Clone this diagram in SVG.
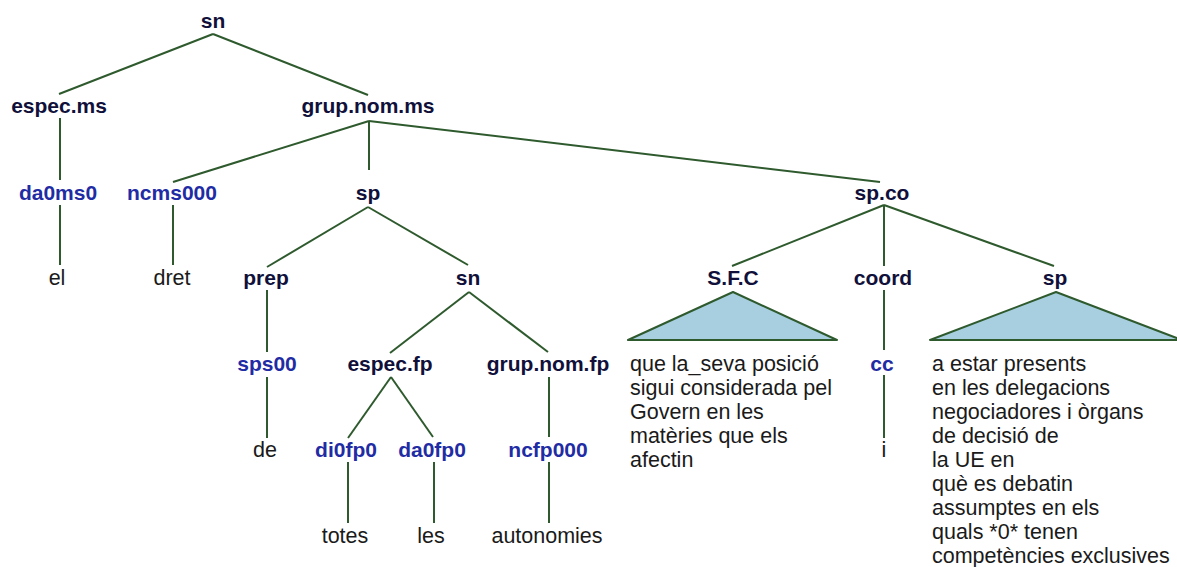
<svg xmlns="http://www.w3.org/2000/svg" width="1177" height="567" viewBox="0 0 1177 567">
<style>
.lbl{font-family:"Liberation Sans",Arial,sans-serif;font-weight:bold;font-size:21px;fill:#10103a;text-anchor:middle}
.tag{font-family:"Liberation Sans",Arial,sans-serif;font-weight:bold;font-size:21px;fill:#1f2ca4;text-anchor:middle}
.wrd{font-family:"Liberation Sans",Arial,sans-serif;font-size:21.5px;fill:#1a1a1a;text-anchor:middle}
.txt{font-family:"Liberation Sans",Arial,sans-serif;font-size:21.5px;fill:#1a1a1a}
.e{stroke:#2e5a2e;stroke-width:2;fill:none}
.tri{fill:#a8cfe0;stroke:#2e5a2e;stroke-width:2;stroke-linejoin:round}
</style>
<rect width="1177" height="567" fill="#ffffff"/>
<g id="connectors">
<line class="e" x1="213" y1="34" x2="59" y2="94"/>
<line class="e" x1="213" y1="34" x2="368" y2="95"/>
<line class="e" x1="60" y1="118" x2="60" y2="180"/>
<line class="e" x1="369" y1="121" x2="173" y2="182"/>
<line class="e" x1="369" y1="121" x2="369" y2="170"/>
<line class="e" x1="369" y1="121" x2="880" y2="182"/>
<line class="e" x1="60" y1="205" x2="60" y2="265"/>
<line class="e" x1="173" y1="205" x2="173" y2="265"/>
<line class="e" x1="368" y1="207" x2="267" y2="267"/>
<line class="e" x1="368" y1="207" x2="468" y2="265"/>
<line class="e" x1="884" y1="205" x2="732" y2="266"/>
<line class="e" x1="884" y1="205" x2="884" y2="266"/>
<line class="e" x1="884" y1="205" x2="1054" y2="266"/>
<line class="e" x1="267" y1="290" x2="267" y2="352"/>
<line class="e" x1="469" y1="292" x2="390" y2="353"/>
<line class="e" x1="469" y1="292" x2="548" y2="352"/>
<line class="e" x1="884" y1="290" x2="884" y2="350"/>
<line class="e" x1="267" y1="377" x2="267" y2="438"/>
<line class="e" x1="391" y1="377" x2="348" y2="438"/>
<line class="e" x1="391" y1="377" x2="433" y2="437"/>
<line class="e" x1="549" y1="377" x2="549" y2="437"/>
<line class="e" x1="884" y1="375" x2="884" y2="438"/>
<line class="e" x1="348" y1="462" x2="348" y2="523"/>
<line class="e" x1="434" y1="462" x2="434" y2="523"/>
<line class="e" x1="549" y1="462" x2="549" y2="523"/>
</g>
<g id="n-sn"><text class="lbl" x="213" y="28">sn</text></g>
<g id="n-espec-ms"><text class="lbl" x="59" y="113">espec.ms</text></g>
<g id="n-grup-nom-ms"><text class="lbl" x="368" y="113">grup.nom.ms</text></g>
<g id="n-da0ms0"><text class="tag" x="58" y="200">da0ms0</text></g>
<g id="n-ncms000"><text class="tag" x="172" y="200">ncms000</text></g>
<g id="n-sp"><text class="lbl" x="368" y="200">sp</text></g>
<g id="n-sp-co"><text class="lbl" x="882" y="200">sp.co</text></g>
<g id="n-el"><text class="wrd" x="57" y="285">el</text></g>
<g id="n-dret"><text class="wrd" x="172" y="285">dret</text></g>
<g id="n-prep"><text class="lbl" x="266" y="285">prep</text></g>
<g id="n-sn2"><text class="lbl" x="468" y="285">sn</text></g>
<g id="n-sfc"><text class="lbl" x="733" y="285">S.F.C</text>
<polygon class="tri" points="733,292 628,340 837,340"/>
<text class="txt" x="630" y="371">que la_seva posició</text>
<text class="txt" x="630" y="395">sigui considerada pel</text>
<text class="txt" x="630" y="419">Govern en les</text>
<text class="txt" x="630" y="443">matèries que els</text>
<text class="txt" x="630" y="467">afectin</text>
</g>
<g id="n-coord"><text class="lbl" x="883" y="285">coord</text></g>
<g id="n-sp2"><text class="lbl" x="1055" y="285">sp</text>
<polygon class="tri" points="1056,292 930,340 1182,340"/>
<text class="txt" x="932" y="371">a estar presents</text>
<text class="txt" x="932" y="395">en les delegacions</text>
<text class="txt" x="932" y="419">negociadores i òrgans</text>
<text class="txt" x="932" y="443">de decisió de</text>
<text class="txt" x="932" y="467">la UE en</text>
<text class="txt" x="932" y="491">què es debatin</text>
<text class="txt" x="932" y="515">assumptes en els</text>
<text class="txt" x="932" y="539">quals *0* tenen</text>
<text class="txt" x="932" y="563">competències exclusives</text>
</g>
<g id="n-sps00"><text class="tag" x="267" y="371">sps00</text></g>
<g id="n-espec-fp"><text class="lbl" x="390" y="371">espec.fp</text></g>
<g id="n-grup-nom-fp"><text class="lbl" x="548" y="371">grup.nom.fp</text></g>
<g id="n-cc"><text class="tag" x="882" y="371">cc</text></g>
<g id="n-de"><text class="wrd" x="265" y="457">de</text></g>
<g id="n-di0fp0"><text class="tag" x="346" y="457">di0fp0</text></g>
<g id="n-da0fp0"><text class="tag" x="432" y="457">da0fp0</text></g>
<g id="n-ncfp000"><text class="tag" x="548" y="457">ncfp000</text></g>
<g id="n-i"><text class="wrd" x="884" y="457">i</text></g>
<g id="n-totes"><text class="wrd" x="345" y="543">totes</text></g>
<g id="n-les"><text class="wrd" x="431" y="543">les</text></g>
<g id="n-autonomies"><text class="wrd" x="547" y="543">autonomies</text></g>
</svg>
